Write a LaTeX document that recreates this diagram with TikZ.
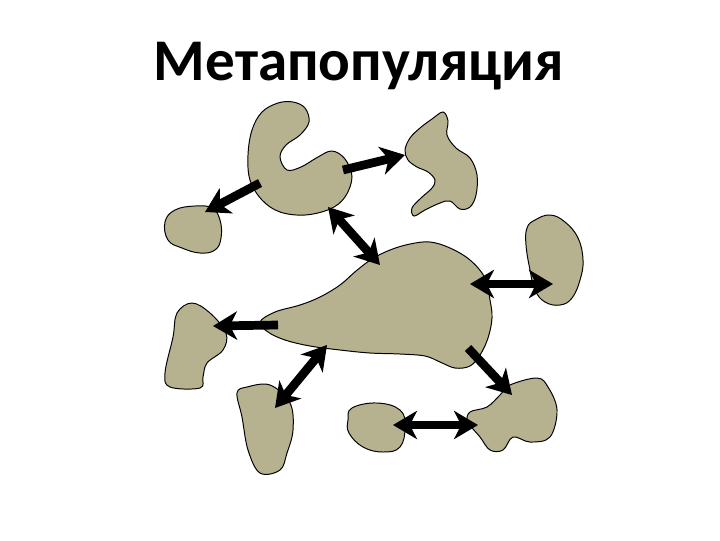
\documentclass[tikz,border=0pt]{standalone}
\usepackage{fontspec}
\setmainfont{Carlito}
\usetikzlibrary{arrows.meta}
\definecolor{patchfill}{RGB}{182,178,143}

\begin{document}
\begin{tikzpicture}[x=0.025cm,y=-0.025cm,
  patch/.style={draw=black,line width=0.7pt,fill=patchfill},
  move/.style={line width=6.2pt,-{Stealth[length=17pt,width=20pt,inset=5pt]}},
  swap/.style={line width=6.2pt,{Stealth[length=17pt,width=20pt,inset=5pt]}-{Stealth[length=17pt,width=20pt,inset=5pt]}}]
\useasboundingbox (0,0) rectangle (720,540);
\node (title) at (359,66) {\fontsize{42pt}{46pt}\selectfont\bfseries Метапопуляция};
% patches
\draw[patch] plot[smooth cycle,tension=0.6] coordinates {(293,102) (305,108) (309,122) (300,135) (286,145) (280,157) (287,170) (301,167) (318,157) (332,151) (345,159) (352,177) (345,197) (330,209) (305,215) (280,212) (262,200) (250,180) (248,155) (252,130) (262,112) (278,103)};
\draw[patch] plot[smooth cycle,tension=0.6] coordinates {(443,112) (448,121) (447,135) (456,148) (470,158) (477,175) (476,195) (470,207) (460,209) (450,201) (440,203) (425,210) (414,216) (412,208) (421,198) (432,188) (435,180) (428,172) (417,167) (408,160) (405,150) (410,138) (420,128) (432,119)};
\draw[patch] plot[smooth cycle,tension=0.7] coordinates {(175,210) (195,206) (212,208) (220,220) (221,238) (215,250) (200,253) (182,248) (168,240) (165,222)};
\draw[patch] plot[smooth cycle,tension=0.6] coordinates {(260,322) (275,312) (300,305) (320,297) (340,285) (356,271) (372,259) (390,250) (410,244) (430,242) (450,248) (470,260) (485,278) (490,300) (492,318) (488,338) (480,355) (470,366) (455,368) (440,362) (425,356) (400,354) (370,353) (340,350) (310,346) (285,340) (268,332)};
\draw[patch] plot[smooth cycle,tension=0.7] coordinates {(535,220) (550,215) (565,222) (578,238) (583,260) (580,280) (572,298) (560,305) (545,302) (535,290) (530,270) (526,245) (527,228)};
\draw[patch] plot[smooth cycle,tension=0.6] coordinates {(192,303) (210,313) (226,333) (223,350) (207,363) (203,377) (200,388) (170,387) (165,373) (173,337) (177,313)};
\draw[patch] plot[smooth cycle,tension=0.6] coordinates {(247,387) (270,385) (290,403) (293,430) (287,453) (280,470) (260,473) (248,450) (242,417) (237,393)};
\draw[patch] plot[smooth cycle,tension=0.7] coordinates {(352,408) (377,403) (400,410) (405,427) (400,447) (383,452) (363,447) (349,433) (348,420)};
\draw[patch] plot[smooth cycle,tension=0.6] coordinates {(510,385) (537,378) (548,387) (557,410) (550,437) (530,442) (513,437) (503,450) (490,450) (480,437) (468,422) (470,412) (487,407) (500,395)};
% arrow ends
\coordinate (a1) at (260,183);
\coordinate (b1) at (205,212);
\coordinate (a2) at (343,170);
\coordinate (b2) at (405,155);
\coordinate (a3) at (328,207);
\coordinate (b3) at (380,265);
\coordinate (a4) at (470,284);
\coordinate (b4) at (553,284);
\coordinate (a5) at (278,325);
\coordinate (b5) at (213,326);
\coordinate (a6) at (327,345);
\coordinate (b6) at (275,408);
\coordinate (a7) at (468,348);
\coordinate (b7) at (512,395);
\coordinate (a8) at (393,425);
\coordinate (b8) at (478,425);
% migrations
\draw[move] (a1) -- (b1);
\draw[move] (a2) -- (b2);
\draw[swap] (a3) -- (b3);
\draw[swap] (a4) -- (b4);
\draw[move] (a5) -- (b5);
\draw[swap] (a6) -- (b6);
\draw[move] (a7) -- (b7);
\draw[swap] (a8) -- (b8);
\end{tikzpicture}
\end{document}
